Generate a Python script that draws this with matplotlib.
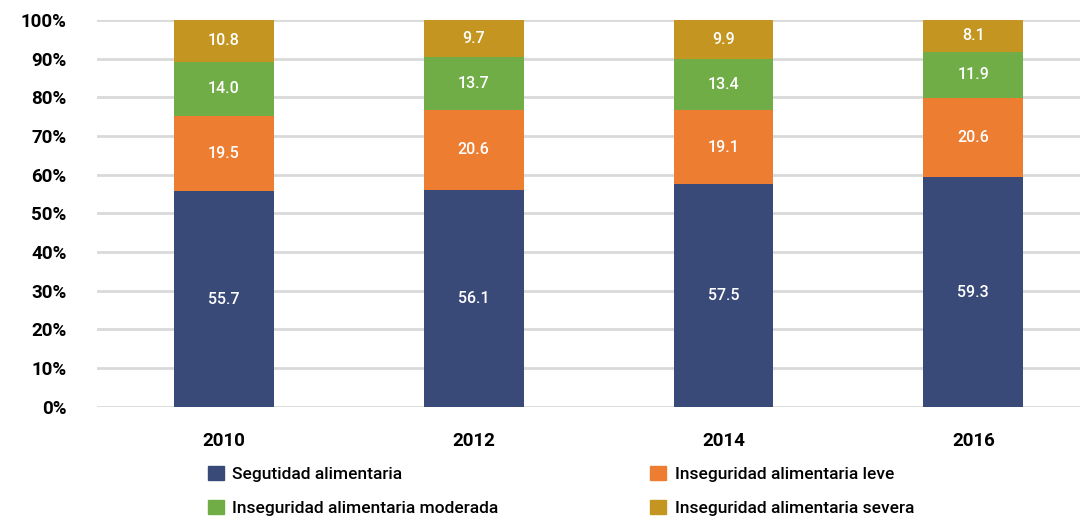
import numpy as np
import matplotlib.pyplot as plt
from matplotlib.patches import Patch

years = ['2010', '2012', '2014', '2016']
segura = [55.7, 56.1, 57.5, 59.3]
leve = [19.5, 20.6, 19.1, 20.6]
moderada = [14.0, 13.7, 13.4, 11.9]
severa = [10.8, 9.7, 9.9, 8.1]

names = ['Segutidad alimentaria', 'Inseguridad alimentaria leve',
         'Inseguridad alimentaria moderada', 'Inseguridad alimentaria severa']
colors = ['#3a4a78', '#ed7d31', '#70ad47', '#c49621']

plt.rcParams['font.family'] = ['Roboto', 'DejaVu Sans']

fig = plt.figure(figsize=(10.84, 5.21), dpi=100)
ax = fig.add_axes([0.0895, 0.219, 0.907, 0.743])

x = np.arange(len(years))
bottom = np.zeros(len(years))
for vals, col in zip([segura, leve, moderada, severa], colors):
    vals = np.array(vals)
    ax.bar(x, vals, 0.4, bottom=bottom, color=col, zorder=3)
    for xi, b, v in zip(x, bottom, vals):
        ax.text(xi, b + v / 2, '%.1f' % v, ha='center', va='center',
                color='white', fontsize=11.5, fontweight='medium', zorder=4)
    bottom += vals

ax.set_xlim(-0.508, 3.428)
ax.set_ylim(0, 100)
ax.set_yticks(np.arange(0, 101, 10))
ax.set_yticklabels(['%d%%' % v for v in range(0, 101, 10)])
ax.set_xticks(x)
ax.set_xticklabels(years)
ax.grid(axis='y', color='#d9d9d9', linewidth=2, zorder=0)
for s in ax.spines.values():
    s.set_visible(False)
ax.tick_params(length=0, labelsize=13.5)
ax.tick_params(axis='y', pad=22)
ax.tick_params(axis='x', pad=18)
for lbl in ax.get_xticklabels() + ax.get_yticklabels():
    lbl.set_fontweight('bold')

handles = [Patch(color=c, label=n) for c, n in zip(colors, names)]
order = [0, 2, 1, 3]
leg = fig.legend([handles[i] for i in order], [names[i] for i in order],
                 ncol=2, loc='lower left', bbox_to_anchor=(0.1774, -0.02),
                 frameon=False, fontsize=12.5, handlelength=0.9, handleheight=0.9,
                 handletextpad=0.5, columnspacing=8.75, labelspacing=1.0)
for t in leg.get_texts():
    t.set_fontweight('medium')

fig.savefig('out.png', dpi=100)
